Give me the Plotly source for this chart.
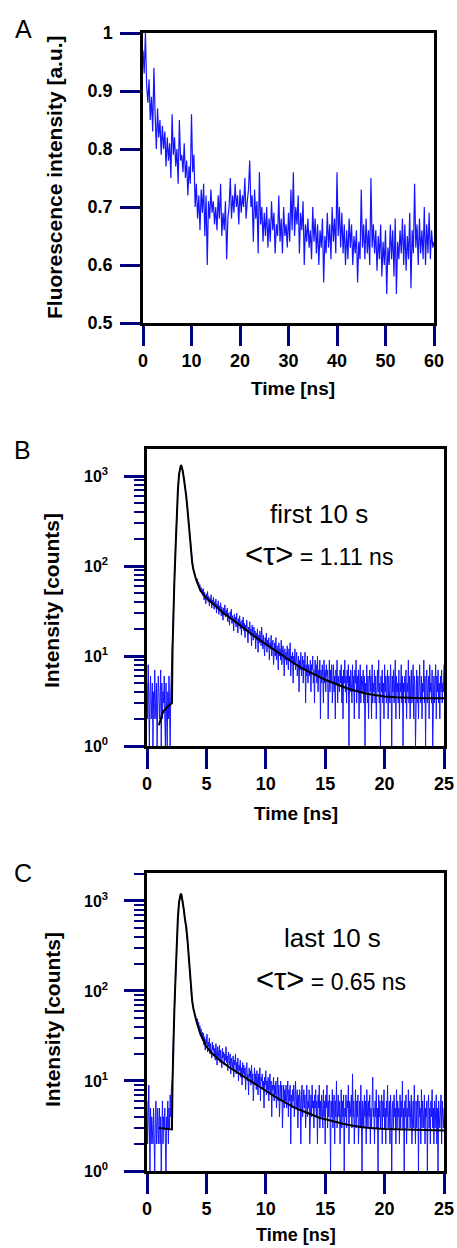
import plotly.graph_objects as go

W, H = 457, 1248
FONT = "Liberation Sans, Arial, sans-serif"

# ---------------- Panel A: fluorescence intensity vs time (0.25 ns bins) ----------------
a_t0, a_dt = 0.0, 0.25
a_intensity = [
    0.97, 0.93, 1.00, 0.91, 0.88, 0.92, 0.85, 0.89, 0.83, 0.94, 0.86, 0.80,
    0.87, 0.82, 0.85, 0.79, 0.84, 0.80, 0.83, 0.77, 0.82, 0.78, 0.81, 0.75,
    0.86, 0.79, 0.82, 0.77, 0.80, 0.74, 0.85, 0.78, 0.79, 0.76, 0.81, 0.75,
    0.78, 0.72, 0.77, 0.74, 0.86, 0.76, 0.79, 0.70, 0.74, 0.68, 0.72, 0.66,
    0.73, 0.69, 0.74, 0.65, 0.72, 0.60, 0.71, 0.68, 0.73, 0.69, 0.71, 0.67,
    0.70, 0.66, 0.72, 0.68, 0.74, 0.65, 0.69, 0.66, 0.71, 0.61, 0.68, 0.70,
    0.75, 0.68, 0.72, 0.69, 0.74, 0.70, 0.72, 0.67, 0.73, 0.69, 0.72, 0.70,
    0.75, 0.68, 0.71, 0.73, 0.78, 0.70, 0.72, 0.64, 0.73, 0.68, 0.71, 0.62,
    0.76, 0.67, 0.70, 0.64, 0.69, 0.65, 0.70, 0.63, 0.68, 0.64, 0.71, 0.66,
    0.69, 0.62, 0.67, 0.65, 0.72, 0.64, 0.68, 0.62, 0.70, 0.65, 0.67, 0.63,
    0.69, 0.64, 0.73, 0.66, 0.76, 0.65, 0.70, 0.67, 0.72, 0.62, 0.69, 0.66,
    0.71, 0.60, 0.67, 0.64, 0.68, 0.63, 0.66, 0.61, 0.70, 0.64, 0.68, 0.62,
    0.67, 0.60, 0.66, 0.63, 0.68, 0.57, 0.65, 0.62, 0.69, 0.63, 0.67, 0.61,
    0.70, 0.64, 0.68, 0.62, 0.76, 0.65, 0.70, 0.63, 0.69, 0.62, 0.67, 0.60,
    0.66, 0.61, 0.68, 0.63, 0.67, 0.60, 0.65, 0.62, 0.66, 0.57, 0.64, 0.61,
    0.73, 0.63, 0.67, 0.61, 0.68, 0.62, 0.66, 0.60, 0.75, 0.63, 0.67, 0.62,
    0.66, 0.59, 0.65, 0.61, 0.67, 0.58, 0.64, 0.60, 0.66, 0.55, 0.63, 0.60,
    0.67, 0.61, 0.66, 0.58, 0.68, 0.55, 0.64, 0.61, 0.66, 0.62, 0.68, 0.60,
    0.67, 0.59, 0.65, 0.61, 0.69, 0.56, 0.66, 0.62, 0.74, 0.63, 0.67, 0.60,
    0.68, 0.62, 0.66, 0.61, 0.70, 0.60, 0.67, 0.62, 0.69, 0.61, 0.66, 0.63,
    0.64,
]
a_xticks = [0, 10, 20, 30, 40, 50, 60]
a_yticks = [0.5, 0.6, 0.7, 0.8, 0.9, 1.0]
a_yticklabels = ["0.5", "0.6", "0.7", "0.8", "0.9", "1"]

# ---------------- Panel B: decay, first 10 s (0.05 ns bins) ----------------
b_t0, b_dt = 0.0, 0.05
b_counts = [
    5, 2, 8, 3, 1, 4, 6, 2, 3, 5, 1, 4, 2, 7, 3, 2, 5, 1, 3, 6,
    4, 2, 3, 7, 1, 5, 2, 4, 3, 6, 2, 1, 5, 3, 1, 4, 2, 6, 3, 1,
    4, 6, 8, 12,
    28, 45, 65, 100, 150, 240, 380, 520, 700, 880,
    1050, 1180, 1280, 1320, 1290, 1230, 1150, 1060, 950, 860,
    780, 690, 600, 520, 440, 370, 300, 250, 200, 165,
    140, 122, 110, 100, 92, 86, 80, 76, 73, 70,
    67, 72, 61, 66, 57, 62, 53, 58, 50, 55,
    47, 56, 42, 51, 45, 38, 49, 43, 52, 40, 46, 36, 44, 39, 48, 34, 42, 37, 45, 33,
    40, 35, 43, 30, 38, 34, 41, 29, 36, 33, 39, 28, 35, 31, 25, 34, 30, 37, 27, 32,
    29, 34, 24, 30, 27, 22, 31, 26, 33, 23, 28, 25, 19, 29, 24, 27, 21, 30, 23, 18,
    26, 22, 28, 20, 24, 17, 25, 21, 27, 19, 23, 16, 22, 20, 25, 18, 14, 21, 19, 24,
    17, 20, 13, 22, 18, 15, 21, 16, 19, 12, 18, 15, 20, 11, 17, 14, 19, 16, 13, 21,
    15, 12, 17, 14, 10, 16, 13, 18, 11, 15, 13, 16, 9, 14, 12, 17, 10, 13, 15, 8,
    12, 14, 10, 16, 9, 13, 11, 7, 14, 10, 12, 9, 15, 8, 11, 13, 10, 6, 12, 9,
    11, 8, 13, 10, 7, 12, 9, 14, 6, 10, 9, 11, 5, 10, 8, 12, 7, 9, 11, 6,
    8, 10, 4, 9, 7, 11, 6, 8, 10, 5, 9, 7, 11, 3, 8, 6, 10, 5, 8, 7,
    6, 9, 4, 8, 7, 10, 5, 7, 3, 9, 6, 8, 5, 10, 4, 7, 6, 9, 2, 7,
    5, 8, 6, 3, 9, 5, 7, 4, 8, 6, 7, 2, 6, 9, 4, 7, 5, 8, 3, 6,
    8, 4, 6, 2, 7, 5, 9, 3, 6, 5, 4, 7, 5, 8, 3, 6, 2, 7, 5, 9,
    4, 6, 3, 7, 5, 8, 1, 6, 4, 7, 5, 3, 8, 4, 6, 2, 7, 5, 9, 3,
    6, 4, 7, 2, 5, 8, 3, 6, 4, 5, 7, 3, 6, 1, 5, 4, 8, 3, 6, 2,
    5, 7, 4, 6, 2, 8, 3, 5, 4, 7, 3, 6, 2, 5, 7, 4, 9, 3, 5, 1,
    6, 4, 7, 3, 5, 2, 8, 4, 6, 3, 5, 7, 2, 6, 4, 3, 8, 5, 1, 6,
    4, 7, 3, 5, 9, 2, 6, 4, 5, 3, 7, 2, 5, 4, 8, 3, 6, 1, 5, 4,
    6, 3, 7, 2, 5, 4, 9, 3, 6, 2, 5, 7, 3, 4, 8, 2, 6, 5, 1, 4,
    7, 3, 6, 2, 5, 8, 4, 3, 6, 2, 5, 4, 9, 3, 6, 1, 5, 7, 3, 4,
    6, 2, 8, 4, 5, 3, 7, 1, 4, 6, 3, 5, 8, 2, 6, 4, 7, 3, 5, 2,
    6, 4, 7, 3, 5, 4, 8,
]
b_fit_t = [1.0, 1.1, 1.2, 1.3, 1.4, 1.5, 1.6, 1.7, 1.8, 1.9, 2.0, 2.1, 2.15, 2.2,
           2.3, 2.4, 2.5, 2.6, 2.7, 2.8, 2.85, 2.9, 3.0, 3.1, 3.2, 3.3, 3.4, 3.5,
           3.6, 3.7, 3.8, 3.9, 4.0, 4.1, 4.2, 4.3, 4.4, 4.5, 5.0, 5.5, 6.0, 6.5,
           7.0, 7.5, 8.0, 8.5, 9.0, 9.5, 10.0, 10.5, 11.0, 11.5, 12.0, 12.5, 13.0,
           13.5, 14.0, 14.5, 15.0, 15.5, 16.0, 16.5, 17.0, 17.5, 18.0, 18.5, 19.0,
           19.5, 20.0, 21.0, 22.0, 23.0, 24.0, 25.0]
b_fit = [1.7, 1.9, 2.1, 2.3, 2.45, 2.55, 2.65, 2.75, 2.8, 2.85, 2.9, 3.0, 12, 28,
         65, 150, 380, 700, 1050, 1280, 1320, 1290, 1150, 950, 780, 600, 440, 300,
         200, 140, 110, 92, 80, 73, 67, 61, 57, 53, 44, 38.5, 33.5, 29.5,
         26.5, 23.5, 21, 18.8, 16.8, 15, 13.5, 12.1, 10.9, 9.8, 8.9, 8.1, 7.4,
         6.8, 6.3, 5.85, 5.45, 5.1, 4.8, 4.55, 4.3, 4.1, 3.95, 3.8, 3.7,
         3.62, 3.55, 3.47, 3.42, 3.4, 3.4, 3.4]

# ---------------- Panel C: decay, last 10 s (0.05 ns bins) ----------------
c_t0, c_dt = 0.0, 0.05
c_counts = [
    6, 2, 4, 9, 3, 1, 5, 2, 4, 3, 2, 5, 3, 1, 4, 6, 2, 3, 5, 2,
    3, 5, 2, 4, 1, 3, 6, 2, 4, 3, 5, 2, 1, 4, 3, 6, 2, 5, 3, 7,
    4, 8, 10, 11,
    25, 40, 60, 95, 140, 230, 350, 490, 650, 820,
    980, 1100, 1180, 1200, 1170, 1100, 1010, 900, 800, 710,
    620, 570, 520, 450, 380, 320, 260, 200, 150, 120,
    100, 88, 78, 70, 64, 59, 55, 52, 49, 46,
    44, 49, 40, 45, 36, 41, 33, 38, 30, 35,
    28, 34, 25, 31, 22, 29, 26, 33, 21, 27, 24, 30, 20, 26, 23, 18, 27, 22, 25, 19,
    23, 17, 26, 21, 15, 24, 20, 18, 25, 16, 22, 19, 14, 23, 18, 21, 15, 20, 17, 24,
    16, 19, 13, 21, 17, 15, 20, 12, 18, 16, 14, 19, 11, 17, 15, 20, 12, 16, 13, 18,
    10, 15, 13, 17, 11, 14, 9, 16, 12, 15, 11, 14, 8, 13, 16, 10, 12, 7, 14, 11,
    13, 9, 15, 10, 12, 6, 11, 14, 9, 12, 8, 13, 10, 7, 12, 9, 14, 6, 11, 10,
    12, 8, 10, 5, 11, 9, 13, 7, 10, 8, 11, 6, 9, 12, 7, 10, 4, 9, 8, 11,
    6, 9, 7, 10, 5, 8, 11, 6, 9, 4, 8, 10, 6, 9, 3, 7, 9, 5, 8, 6,
    9, 5, 7, 10, 4, 8, 6, 9, 2, 7, 5, 8, 6, 9, 4, 7, 10, 5, 6, 8,
    3, 7, 5, 8, 6, 2, 7, 9, 4, 6, 8, 5, 7, 3, 6, 9, 4, 6, 5, 8,
    2, 6, 7, 4, 9, 5, 6, 3, 7, 5, 8, 4, 6, 2, 7, 5, 9, 3, 6, 4,
    7, 5, 3, 8, 4, 6, 2, 7, 5, 9, 3, 6, 4, 7, 5, 1, 6, 4, 8, 3,
    5, 7, 2, 6, 4, 10, 3, 5, 7, 4, 6, 2, 5, 8, 3, 6, 4, 7, 1, 5,
    4, 7, 3, 6, 5, 9, 2, 6, 4, 5, 7, 3, 12, 4, 6, 2, 5, 8, 3, 6,
    4, 7, 2, 5, 6, 3, 9, 4, 1, 6, 5, 3, 7, 4, 6, 2, 8, 5, 3, 6,
    4, 7, 2, 5, 3, 6, 11, 4, 5, 2, 6, 4, 8, 3, 5, 1, 7, 4, 6, 3,
    5, 7, 2, 6, 4, 8, 3, 5, 2, 6, 4, 9, 3, 5, 6, 2, 7, 4, 1, 5,
    6, 3, 7, 4, 5, 2, 8, 3, 6, 4, 5, 2, 7, 3, 6, 4, 10, 3, 5, 1,
    6, 4, 7, 2, 5, 3, 8, 4, 6, 3, 5, 7, 2, 4, 6, 3, 9, 4, 2, 6,
    3, 5, 7, 1, 6, 4, 5, 2, 8, 3, 6, 4, 3, 7, 2, 5, 4, 6, 1, 5,
    7, 3, 5, 2, 6, 4, 8, 3, 5, 2, 6, 3, 4, 7, 2, 5, 1, 6, 4, 3,
    5, 7, 2, 6, 4, 3, 5,
]
c_fit_t = [1.0, 1.5, 2.0, 2.1, 2.15, 2.2, 2.3, 2.4, 2.5, 2.6, 2.7, 2.8, 2.85, 2.9,
           3.0, 3.1, 3.2, 3.3, 3.4, 3.5, 3.6, 3.7, 3.8, 3.9, 4.0, 4.1, 4.2, 4.3,
           4.4, 4.5, 5.0, 5.5, 6.0, 6.5, 7.0, 7.5, 8.0, 8.5, 9.0, 9.5, 10.0, 10.5,
           11.0, 11.5, 12.0, 12.5, 13.0, 13.5, 14.0, 14.5, 15.0, 15.5, 16.0, 16.5,
           17.0, 17.5, 18.0, 18.5, 19.0, 19.5, 20.0, 21.0, 22.0, 23.0, 24.0, 25.0]
c_fit = [3.0, 2.95, 2.9, 2.9, 10, 25, 60, 140, 350, 650, 980, 1180, 1200, 1170,
         1010, 800, 620, 520, 380, 260, 150, 100, 78, 64, 55, 49, 44, 40,
         36, 33, 24, 20, 17.5, 15.5, 14, 12.7, 11.5, 10.4, 9.4, 8.5, 7.7, 7.0,
         6.4, 5.9, 5.4, 5.0, 4.7, 4.4, 4.1, 3.9, 3.75, 3.6, 3.45, 3.35,
         3.25, 3.15, 3.08, 3.02, 2.98, 2.95, 2.93, 2.9, 2.88, 2.85, 2.83, 2.82]

log_xticks = [0, 5, 10, 15, 20, 25]
log_yticks = [1, 10, 100, 1000]
log_yticklabels = ["10<sup>0</sup>", "10<sup>1</sup>", "10<sup>2</sup>", "10<sup>3</sup>"]
log_minor = [m * d for d in (1, 10, 100, 1000) for m in range(2, 10)]

BLUE = "rgb(20,20,255)"
TICK = "navy"


def X(px):
    return px / W


def Y(py):
    return 1 - py / H


fig = go.Figure()
fig.add_trace(go.Scatter(y=a_intensity, x0=a_t0, dx=a_dt, mode="lines",
                         line=dict(color=BLUE, width=1.2), xaxis="x", yaxis="y",
                         showlegend=False))
fig.add_trace(go.Scatter(y=b_counts, x0=b_t0, dx=b_dt, mode="lines",
                         line=dict(color=BLUE, width=1), xaxis="x2", yaxis="y2",
                         showlegend=False))
fig.add_trace(go.Scatter(x=b_fit_t, y=b_fit, mode="lines",
                         line=dict(color="black", width=2), xaxis="x2", yaxis="y2",
                         showlegend=False))
fig.add_trace(go.Scatter(y=c_counts, x0=c_t0, dx=c_dt, mode="lines",
                         line=dict(color=BLUE, width=1), xaxis="x3", yaxis="y3",
                         showlegend=False))
fig.add_trace(go.Scatter(x=c_fit_t, y=c_fit, mode="lines",
                         line=dict(color="black", width=2), xaxis="x3", yaxis="y3",
                         showlegend=False))


def axis(**kw):
    d = dict(showline=True, linecolor="#000000", linewidth=2.5, mirror=True,
             showgrid=False, zeroline=False, ticks="outside", ticklen=20,
             tickwidth=3, tickcolor=TICK, showticklabels=True)
    d.update(kw)
    return d


tickfont = dict(family=FONT, size=18, color="black", weight="bold")
logfont = dict(family=FONT, size=16, color="black", weight="bold")
minor_log = dict(ticks="outside", ticklen=10, tickwidth=2, tickcolor=TICK,
                 tickmode="array", tickvals=log_minor, showgrid=False)

fig.update_layout(
    template="none",
    width=W, height=H,
    margin=dict(l=0, r=0, t=0, b=0, pad=0),
    paper_bgcolor="white", plot_bgcolor="white",
    xaxis=axis(domain=[X(143), X(434)], range=[0, 60], tickmode="array",
               tickvals=a_xticks, anchor="y", tickfont=tickfont),
    yaxis=axis(domain=[Y(323), Y(33)], range=[0.5, 1.0], tickmode="array",
               tickvals=a_yticks, ticktext=a_yticklabels, anchor="x",
               tickfont=tickfont, ticklabelstandoff=4),
    xaxis2=axis(domain=[X(147), X(444)], range=[0, 25], tickmode="array",
                tickvals=log_xticks, anchor="y2", tickfont=tickfont),
    yaxis2=axis(domain=[Y(746), Y(449)], type="log", range=[0, 3.3],
                tickmode="array", tickvals=log_yticks, ticktext=log_yticklabels,
                anchor="x2", tickfont=logfont, ticklabelstandoff=13,
                minor=minor_log),
    xaxis3=axis(domain=[X(147), X(444)], range=[0, 25], tickmode="array",
                tickvals=log_xticks, anchor="y3", tickfont=tickfont),
    yaxis3=axis(domain=[Y(1171), Y(873)], type="log", range=[0, 3.31],
                tickmode="array", tickvals=log_yticks, ticktext=log_yticklabels,
                anchor="x3", tickfont=logfont, ticklabelstandoff=13,
                minor=minor_log),
)


def ann(text, px, py, size, bold=False, angle=0):
    fig.add_annotation(text=text, x=X(px), y=Y(py), xref="paper", yref="paper",
                       showarrow=False, xanchor="center", yanchor="middle",
                       textangle=angle,
                       font=dict(family=FONT, size=size, color="black",
                                 weight="bold" if bold else "normal"))


# panel letters
ann("A", 23, 29, 25)
ann("B", 22, 450, 25)
ann("C", 23, 873, 25)

# axis titles
ann("Fluorescence intensity [a.u.]", 54, 177, 21, bold=True, angle=-90)
ann("Time [ns]", 293, 388, 19, bold=True)
ann("Intensity [counts]", 51, 601, 21, bold=True, angle=-90)
ann("Time [ns]", 296, 813, 19, bold=True)
ann("Intensity [counts]", 52, 1020, 21, bold=True, angle=-90)
ann("Time [ns]", 296, 1235, 18, bold=True)

# in-plot labels
ann("first 10 s", 319, 514, 26)
ann('<span style="font-size:31px">&lt;τ&gt;</span> = 1.11 ns', 319, 554, 23)
ann("last 10 s", 332, 938, 26)
ann('<span style="font-size:31px">&lt;τ&gt;</span> = 0.65 ns', 331, 979, 23)

fig.write_html("out.html", config={"displayModeBar": False},
               post_script="document.body.style.margin='0px';")
